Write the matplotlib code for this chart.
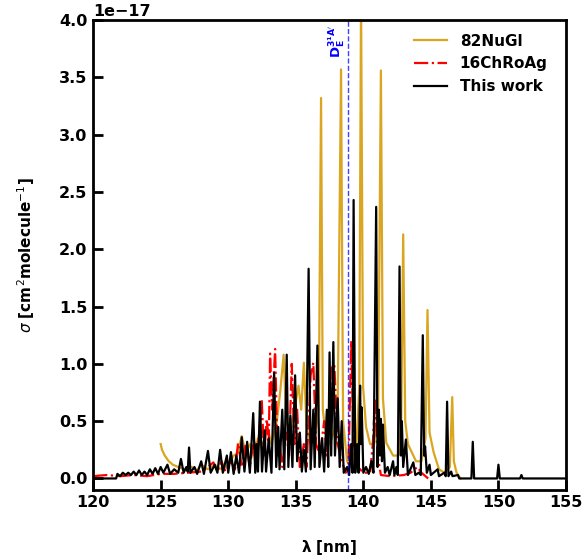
import numpy as np
import matplotlib
matplotlib.use("Agg")
import matplotlib.pyplot as plt

# cross sections in units of 1e-17 cm^2/molecule
nugl_wl = [125.0, 125.1, 125.3, 125.6, 125.9, 126.3, 126.8, 127.3, 127.7, 128.0, 128.5, 129.0,
           129.5, 130.0, 130.4, 130.7, 131.0, 131.3, 131.6, 131.9, 132.2, 132.5, 132.9, 133.2,
           133.6, 133.85, 134.1, 134.3, 134.6, 134.9, 135.2, 135.4, 135.6, 135.8, 136.1, 136.4,
           136.7, 136.87, 137.0, 137.2, 137.5, 137.8, 138.1, 138.35, 138.5, 138.8, 139.1, 139.5,
           139.7, 139.83, 139.98, 140.2, 140.5, 140.8, 141.1, 141.3, 141.45, 141.7, 142.2, 142.6,
           142.8, 142.95, 143.1, 143.3, 143.9, 144.3, 144.6, 144.75, 144.9, 145.2, 145.6, 146.0,
           146.4, 146.58, 146.7, 146.9, 147.2]
nugl_sig = [0.3, 0.25, 0.2, 0.15, 0.12, 0.1, 0.08, 0.1, 0.07, 0.12, 0.08, 0.12,
            0.08, 0.12, 0.2, 0.22, 0.37, 0.22, 0.3, 0.2, 0.35, 0.25, 0.45, 0.3,
            0.5, 0.76, 1.08, 0.5, 0.4, 0.6, 0.81, 0.6, 1.01, 0.45, 0.3, 0.35,
            0.6, 3.32, 0.6, 0.4, 0.3, 0.4, 0.6, 3.57, 0.5, 0.15, 0.1, 0.3,
            0.8, 4.2, 0.8, 0.45, 0.3, 0.3, 0.6, 3.56, 0.7, 0.31, 0.2, 0.2,
            0.45, 2.13, 0.5, 0.3, 0.15, 0.15, 0.35, 1.47, 0.4, 0.23, 0.08, 0.05,
            0.1, 0.71, 0.15, 0.05, 0.0]

chro_wl = [120.0, 121.0, 122.0, 123.0, 124.0, 125.0, 126.0, 127.0, 128.0, 128.5, 128.9, 129.2,
           129.5, 129.8, 130.2, 130.5, 130.73, 131.0, 131.3, 131.6, 131.9, 132.1, 132.48, 132.65,
           132.85, 133.0, 133.1, 133.25, 133.47, 133.65, 133.8, 134.0, 134.3, 134.5, 134.7, 134.9,
           135.1, 135.3, 135.6, 135.8, 136.1, 136.3, 136.5, 136.8, 137.1, 137.3, 137.6, 137.85,
           138.1, 138.4, 138.7, 138.9, 139.1, 139.3, 139.6, 140.0, 140.5, 140.7, 140.87, 141.05,
           141.3, 142.0, 143.0, 143.5, 144.0, 144.3, 144.8]
chro_sig = [0.02, 0.03, 0.02, 0.03, 0.02, 0.04, 0.04, 0.05, 0.06, 0.1, 0.14, 0.06,
            0.15, 0.06, 0.15, 0.08, 0.31, 0.1, 0.3, 0.1, 0.35, 0.1, 0.69, 0.2,
            0.52, 0.3, 1.09, 0.6, 1.13, 0.2, 0.3, 0.1, 0.4, 0.2, 1.0, 0.3,
            0.6, 0.1, 0.3, 0.1, 0.9, 1.01, 0.3, 0.2, 0.5, 0.2, 0.95, 1.0,
            0.3, 0.15, 0.05, 0.1, 1.2, 0.3, 0.1, 0.05, 0.05, 0.3, 0.68, 0.2,
            0.03, 0.02, 0.03, 0.05, 0.1, 0.05, 0.0]

this_wl = [120.0, 121.7, 121.8, 122.0, 122.2, 122.4, 122.6, 122.8, 123.0, 123.2, 123.4, 123.6,
           123.8, 124.0, 124.2, 124.4, 124.6, 124.8, 125.0, 125.2, 125.5, 125.7, 126.0, 126.3,
           126.5, 126.7, 126.9, 127.0, 127.1, 127.2, 127.5, 127.7, 128.0, 128.2, 128.5, 128.7,
           129.0, 129.2, 129.4, 129.6, 129.9, 130.0, 130.2, 130.4, 130.6, 130.8, 131.0, 131.2,
           131.4, 131.6, 131.85, 132.0, 132.1, 132.2, 132.35, 132.5, 132.7, 132.8, 133.0, 133.2,
           133.4, 133.55, 133.7, 133.8, 134.0, 134.15, 134.33, 134.45, 134.6, 134.75, 134.95, 135.1,
           135.3, 135.45, 135.6, 135.75, 135.95, 136.1, 136.3, 136.4, 136.6, 136.75, 136.95, 137.1,
           137.3, 137.4, 137.5, 137.62, 137.78, 137.9, 138.1, 138.25, 138.4, 138.55, 138.8, 138.95,
           139.1, 139.2, 139.28, 139.4, 139.55, 139.65, 139.76, 139.82, 139.88, 140.0, 140.2, 140.4,
           140.6, 140.75, 140.95, 141.05, 141.15, 141.22, 141.3, 141.38, 141.45, 141.6, 141.8, 141.95,
           142.2, 142.3, 142.45, 142.55, 142.68, 142.78, 142.85, 142.95, 143.15, 143.3, 143.7, 143.85,
           144.1, 144.25, 144.4, 144.5, 144.57, 144.7, 144.9, 145.0, 145.5, 145.6, 146.0, 146.1,
           146.2, 146.3, 146.5, 146.6, 147.0, 147.1, 148.0, 148.1, 148.2, 149.9, 150.0, 150.1,
           151.6, 151.7, 151.8, 155.0]
this_sig = [0.0, 0.0, 0.04, 0.02, 0.05, 0.03, 0.05, 0.03, 0.06, 0.03, 0.07, 0.03,
            0.06, 0.03, 0.08, 0.04, 0.09, 0.04, 0.1, 0.05, 0.12, 0.04, 0.08, 0.05,
            0.17, 0.05, 0.1, 0.06, 0.27, 0.05, 0.1, 0.04, 0.15, 0.04, 0.24, 0.05,
            0.12, 0.05, 0.25, 0.05, 0.2, 0.05, 0.23, 0.04, 0.2, 0.05, 0.36, 0.06,
            0.32, 0.05, 0.57, 0.05, 0.3, 0.06, 0.67, 0.06, 0.42, 0.06, 0.35, 0.05,
            0.92, 0.1, 0.45, 0.08, 0.6, 0.08, 1.08, 0.1, 0.55, 0.1, 0.9, 0.15,
            0.4, 0.06, 0.25, 0.06, 1.83, 0.08, 0.6, 0.1, 1.16, 0.1, 0.35, 0.06,
            0.6, 0.1, 1.1, 0.2, 1.19, 0.2, 0.7, 0.1, 0.5, 0.05, 0.1, 0.03,
            0.3, 0.05, 2.43, 0.05, 0.3, 0.05, 0.81, 0.3, 0.62, 0.05, 0.1, 0.04,
            0.15, 0.05, 2.37, 0.1, 0.6, 0.2, 0.52, 0.15, 0.47, 0.05, 0.1, 0.03,
            0.15, 0.03, 0.1, 0.03, 1.85, 0.2, 0.5, 0.1, 0.34, 0.03, 0.14, 0.03,
            0.05, 0.03, 1.25, 0.2, 0.28, 0.05, 0.12, 0.03, 0.08, 0.02, 0.05, 0.02,
            0.67, 0.02, 0.06, 0.02, 0.03, 0.0, 0.0, 0.32, 0.0, 0.0, 0.12, 0.0,
            0.0, 0.03, 0.0, 0.0]

threshold = 138.85  # D_E of the 3 1A' state
scale = 1e-17

fig = plt.figure(figsize=(5.82, 5.58), dpi=100)
ax = fig.add_axes([0.16, 0.122, 0.8125, 0.842])

ax.plot(nugl_wl, np.array(nugl_sig) * scale, color="goldenrod", lw=1.6, label="82NuGl")
ax.plot(chro_wl, np.array(chro_sig) * scale, color="red", lw=1.6, ls="-.", label="16ChRoAg")
ax.plot(this_wl, np.array(this_sig) * scale, color="black", lw=1.6, label="This work")
ax.axvline(threshold, color="blue", alpha=0.75, ls="--", lw=1.0)
ax.text(threshold - 0.05, 3.96 * scale, r"$\mathbf{D_E^{3^1A^{\prime}}}$", color="blue",
        rotation=90, ha="right", va="top", fontsize=9.5)

ax.set_xlim(120, 155)
ax.set_ylim(-0.1 * scale, 4.0 * scale)
ax.set_yticks(np.arange(0, 4.01, 0.5) * scale)
ax.set_xlabel(r"$\mathbf{\lambda}$ [nm]", fontsize=11, fontweight="bold", labelpad=20)
ax.set_ylabel(r"$\sigma$ [cm$^2$molecule$^{-1}$]", fontsize=11, fontweight="bold", labelpad=16)
ax.tick_params(direction="in", length=7, width=2, labelsize=11.5, pad=4)
for lab in ax.get_xticklabels() + ax.get_yticklabels():
    lab.set_fontweight("bold")
ax.yaxis.get_offset_text().set_fontweight("bold")
ax.yaxis.get_offset_text().set_fontsize(11.5)
for sp in ax.spines.values():
    sp.set_linewidth(2)

leg = ax.legend(loc="upper right", frameon=False, fontsize=11, handlelength=2.2,
                bbox_to_anchor=(0.99, 1.0))
for t in leg.get_texts():
    t.set_fontweight("bold")

fig.savefig("out.png", dpi=100)
